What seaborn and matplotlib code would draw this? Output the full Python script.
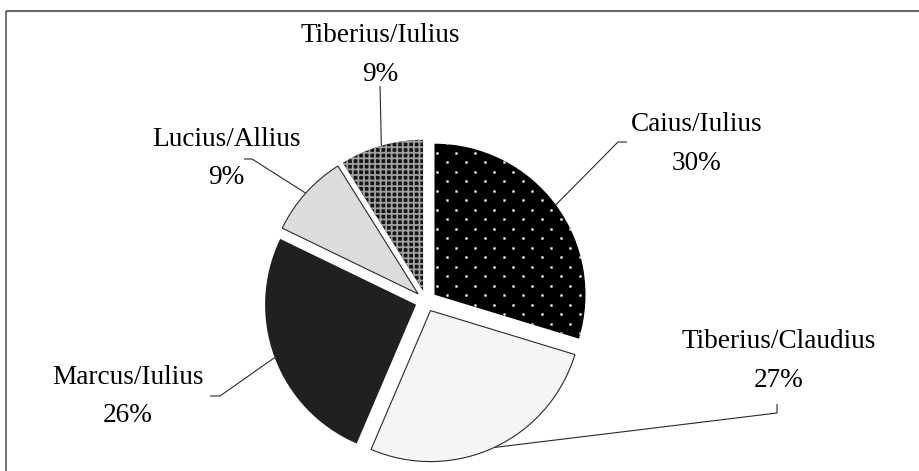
import numpy as np
import matplotlib
matplotlib.use("Agg")
import matplotlib.pyplot as plt
import seaborn as sns
from matplotlib.lines import Line2D

# Shares of each praenomen/nomen combination, clockwise from 12 o'clock
names = ["Caius/Iulius", "Tiberius/Claudius", "Marcus/Iulius", "Lucius/Allius", "Tiberius/Iulius"]
shares = [30, 27, 26, 9, 9]

face_colors = ["#000000", "#f5f5f5", "#202020", "#dcdcdc", "#161616"]

sns.set_theme(style="white")
plt.rcParams["font.family"] = ["Liberation Serif", "DejaVu Serif"]
plt.rcParams["hatch.linewidth"] = 1.3

W, H, DPI = 920, 471, 100
fig = plt.figure(figsize=(W / DPI, H / DPI), dpi=DPI, facecolor="white", edgecolor="white")
ax = fig.add_axes([0, 0, 1, 1])

# pie centre and radius in pixels (origin top-left)
CX, CY, R = 426, 301, 151


def px(x, y):
    """Pixel position -> data coordinates of the pie axes."""
    return ((x - CX) / R, (CY - y) / R)


wedges, _ = ax.pie(
    shares,
    startangle=90,
    counterclock=False,
    explode=[0.07] * len(shares),
    colors=face_colors,
    wedgeprops=dict(linewidth=0),
)
ax.set_xlim((0 - CX) / R, (W - CX) / R)
ax.set_ylim((CY - H) / R, CY / R)
ax.set_aspect("auto")
ax.axis("off")

# thin outlines on the pale wedges
for k in (1, 3):
    wedges[k].set_edgecolor("#2a2a2a")
    wedges[k].set_linewidth(0.8)

# small checker texture
wedges[4].set_hatch("+++")
wedges[4].set_edgecolor("#a0a0a0")
wedges[4].set_linewidth(0)

# white dot texture on the black wedge
gx, gy = [], []
for j in range(-3, 28):
    yy = 143.3 + 9.5 * j
    off = 0.0 if j % 2 == 0 else 9.5
    for i in range(-3, 12):
        gx.append(446.7 + off + 19 * i)
        gy.append(yy)
dots = np.array([px(x, y) for x, y in zip(gx, gy)])
sc = ax.scatter(dots[:, 0], dots[:, 1], s=3.2, c="white", edgecolors="#9a9a9a",
                linewidths=0.4, zorder=3)
sc.set_clip_path(wedges[0])

# label layout: text centre x, baseline of name, baseline of percent, leader path
label_layout = [
    (697, 131, 170, [(618, 142), (627, 142)]),
    (779, 348, 387, [(777, 413), (777, 404)]),
    (128, 384, 422, [(220, 396), (210, 396)]),
    (226, 146, 184, [(252, 159), (244, 159)]),
    (380, 42, 81, [(380, 86)]),
]

for w, name, val, (tx, b1, b2, path) in zip(wedges, names, shares, label_layout):
    mid = np.deg2rad((w.theta1 + w.theta2) / 2)
    ax0 = w.center[0] + w.r * np.cos(mid)
    ay0 = w.center[1] + w.r * np.sin(mid)
    pts = [(ax0, ay0)] + [px(x, y) for x, y in path]
    xs, ys = zip(*pts)
    ax.plot(xs, ys, color="#2a2a2a", lw=0.8, zorder=4, solid_capstyle="butt")
    ax.text(*px(tx, b1), name, ha="center", va="baseline", fontsize=19.6, color="black")
    ax.text(*px(tx, b2), f"{val}%", ha="center", va="baseline", fontsize=19.6, color="black")

# chart-area frame: only the top and left sides fall inside the image
top = 1 - 11 / H
left = 6.5 / W
fig.add_artist(Line2D([left, 1.05], [top, top], transform=fig.transFigure,
                      color="#6a6a6a", lw=1.5, solid_capstyle="butt"))
fig.add_artist(Line2D([left, left], [-0.05, top], transform=fig.transFigure,
                      color="#5a5a5a", lw=1.2, solid_capstyle="butt"))

fig.savefig("out.png", dpi=DPI, facecolor="white", edgecolor="white")
